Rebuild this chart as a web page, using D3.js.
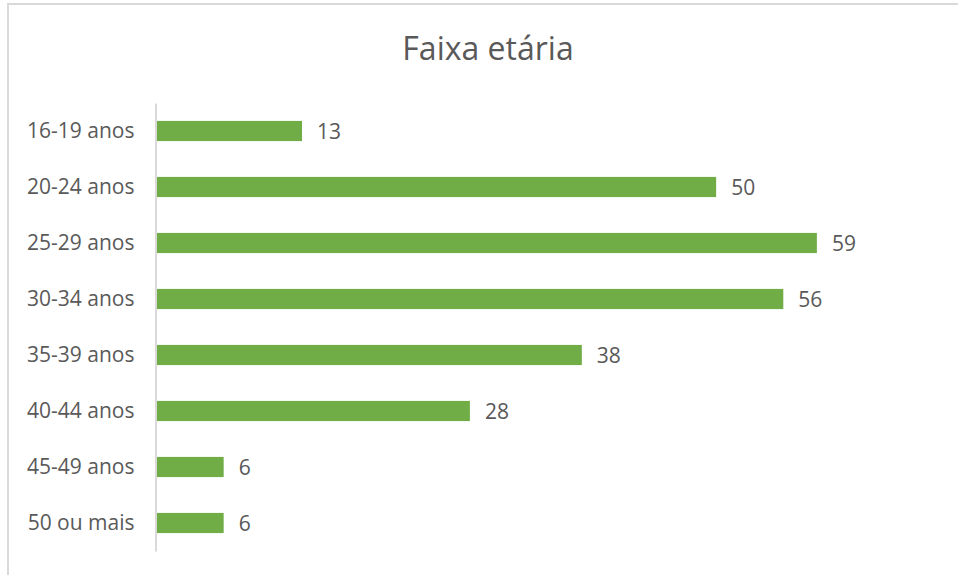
<!DOCTYPE html>
<html>
<head>
<meta charset="utf-8">
<script src="https://cdn.jsdelivr.net/npm/d3@7"></script>
<style>
  body { margin: 0; background: #fff; }
  text { font-family: "Open Sans", sans-serif; fill: #595959; }
</style>
</head>
<body>
<svg id="chart" width="958" height="575"></svg>
<script>
// data
const categories = ["16-19 anos", "20-24 anos", "25-29 anos", "30-34 anos",
                    "35-39 anos", "40-44 anos", "45-49 anos", "50 ou mais"];
const values = [13, 50, 59, 56, 38, 28, 6, 6];
const title = "Faixa etária";

const svg = d3.select("#chart");
const W = 958, H = 575;
const barColor = "#70ad47";

// outer frame (cut off at right/bottom in the reference)
svg.append("rect")
    .attr("x", 8).attr("y", 4)
    .attr("width", W + 20).attr("height", H + 20)
    .attr("fill", "#fff")
    .attr("stroke", "#d9d9d9")
    .attr("stroke-width", 2);

svg.append("text")
    .attr("x", 488).attr("y", 60)
    .attr("text-anchor", "middle")
    .style("font-size", "32px")
    .text(title);

const x = d3.scaleLinear()
    .domain([0, 70])
    .range([155.5, 939]);

const y = d3.scaleBand()
    .domain(categories)
    .range([103, 551])
    .paddingInner(0.64)
    .paddingOuter(0.32);

// bars
svg.selectAll("rect.bar")
    .data(values)
    .enter().append("rect")
    .attr("class", "bar")
    .attr("x", x(0) + 1)
    .attr("y", (d, i) => y(categories[i]))
    .attr("width", d => x(d) - x(0))
    .attr("height", y.bandwidth())
    .attr("fill", barColor);

// value labels
svg.selectAll("text.value")
    .data(values)
    .enter().append("text")
    .attr("class", "value")
    .attr("x", d => x(d) + 16)
    .attr("y", (d, i) => y(categories[i]) + y.bandwidth() / 2)
    .attr("dy", "0.36em")
    .style("font-size", "21px")
    .text(d => d);

// category axis
const axis = svg.append("g")
    .attr("transform", `translate(${x(0)},0)`)
    .call(d3.axisLeft(y).tickSize(0).tickPadding(21));

axis.select(".domain")
    .attr("stroke", "#d9d9d9")
    .attr("stroke-width", 2);

axis.selectAll("text")
    .style("font-family", "'Open Sans', sans-serif")
    .style("font-size", "21px")
    .attr("fill", "#595959");
</script>
</body>
</html>
